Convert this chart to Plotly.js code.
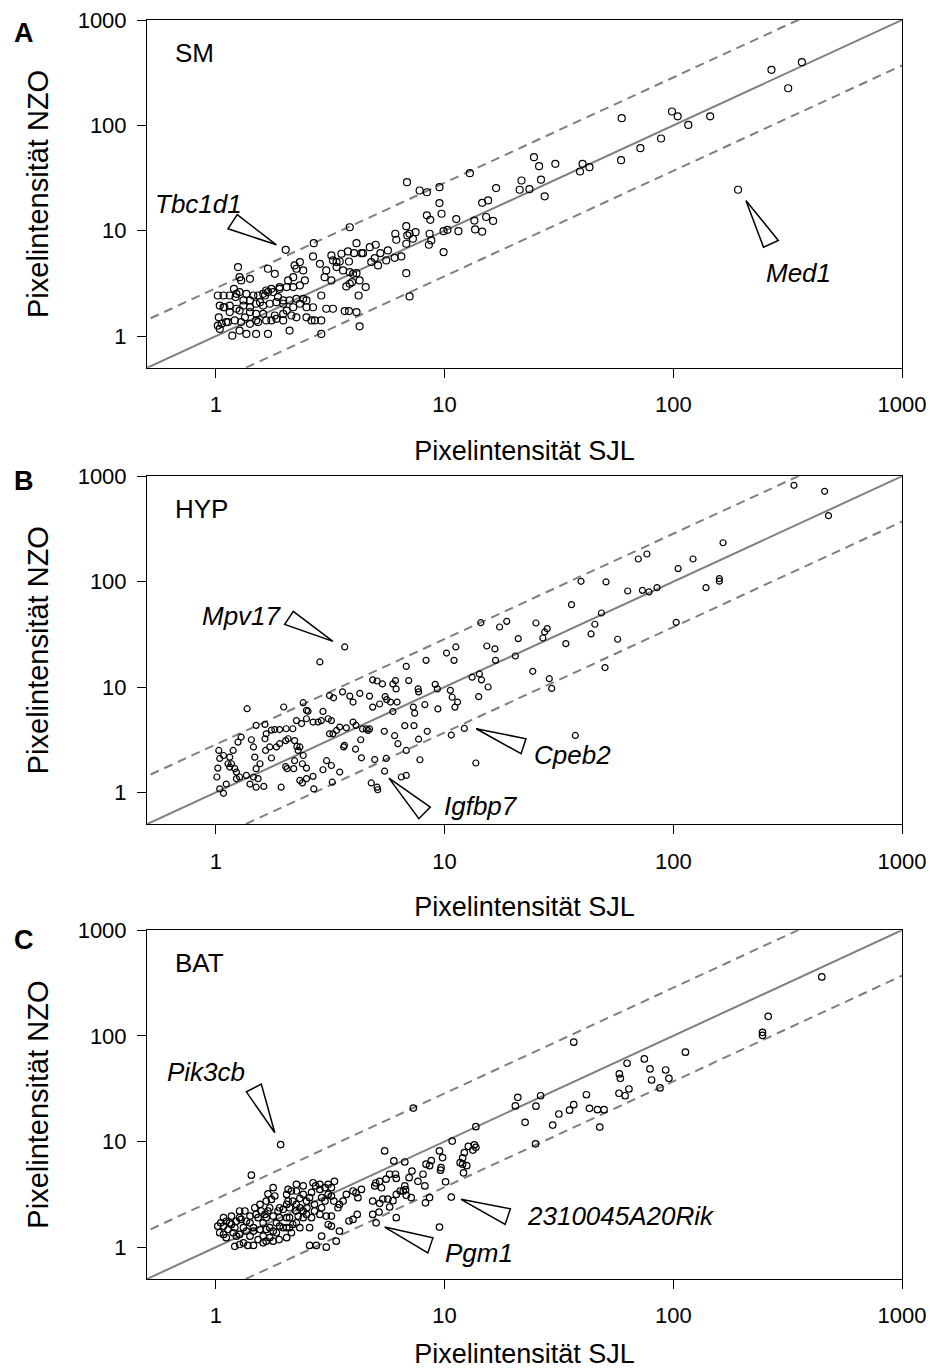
<!DOCTYPE html>
<html><head><meta charset="utf-8">
<script src="https://cdn.plot.ly/plotly-3.0.1.min.js"></script>
<style>html,body{margin:0;padding:0;background:#fff}#chart{width:930px;height:1369px}</style>
</head><body><div id="chart"></div>
<script>
const panelLetters = ['A', 'B', 'C'];
const tissues = ['SM', 'HYP', 'BAT'];
const xTitle = 'Pixelintensität SJL';
const yTitle = 'Pixelintensität NZO';
const tickValues = [1, 10, 100, 1000];
const tickLabels = ['1', '10', '100', '1000'];
const foldUpper = 2.85;
const foldLower = 2.7;

// Panel A: SM
const smSJL = [268.7,365,318,192,59.5,98.7,104.5,116.3,145,88.4,71.8,59.1,24.6,25.9,30.5,26.4,27.4,21.7,21.3,23.5,16.8,12.9,40.1,39.1,43,14.6,15.5,15.2,16.3,13.5,11.25,13.6,14.6,11.5,10.3,9.9,9.5,9.5,9.7,
 2.02,6.85,7.78,8.37,8.37,8.66,6.09,6.8,7.03,7.47,7.27,6.15,6.87,6.8,8.6,8.75,8.54,9.9,5.65,5.24,4.95,4.71,5.0,4.4,4.12,3.78,4.02,4.33,3.82,3.54,3.48,3.25,3.2,3.37,3.6,3.85,4.12,4.25,3.94,4.21,3.66,3.82,4.12,4.25,6.8,7.03,2.68,3.85,5.56,6.05,6.47,5.12,4.78,3.85,3.72,3.98,4.52,
 2.66,2.85,3.04,2.99,3.37,3.2,3.25,3.04,2.89,2.89,2.62,2.66,2.49,2.49,2.45,2.41,2.33,2.25,2.18,2.21,2.07,2.04,1.9,1.78,1.66,1.64,1.56,1.46,1.41,1.36,1.27,1.29,1.25,1.41,1.69,1.81,1.75,1.87,1.97,2.04,2.14,2.25,2.49,2.71,2.89,2.1,1.69,1.5,1.36,1.27,1.18,1.11,1.04,1.03,1.02,1.04,1.09,1.15,1.2,1.27,1.02,1.08,1.15,1.22,1.32,1.41,1.5,1.61,1.75,1.84,1.97,2.18,2.33,1.5,1.34,1.27,
 1.23,1.53,1.61,1.69,1.9,2.18,2.33,1.08,1.15,1.23,1.32,1.41,1.5,1.61,1.72,1.84,1.97,2.1,2.25,2.41,1.06,1.13,1.21,1.29,1.41,1.53,1.66,1.81,1.97];
const smNZO = [337,398,225,24.5,117,135.5,122,101,122,75.1,60.8,46.8,49.9,41,43.2,30.5,21.2,30,24.5,24.8,25.4,35.2,43.2,36.5,40.1,18.4,19.4,13.5,12.4,12.5,12.9,10.3,9.8,9.9,10.2,9.9,25.9,18.3,14.5,
 6.6,28.9,24.1,23.2,14,12.7,9.37,11.06,9.37,9.7,8.4,8.22,9.03,7.53,9.37,8.09,7.37,6.27,6.5,6.13,5.5,6.99,7.37,6.13,7.63,6.36,6.13,6.13,5.11,6.05,5.11,5.23,5.83,4.52,4.2,4.05,3.96,3.38,3.25,2.43,1.73,1.73,1.69,1.24,3.96,2.38,7.63,10.8,5.23,5.54,5.71,4.69,5.04,3.14,2.96,3.9,2.92,
 5.71,4.86,4.2,3.63,5.04,3.38,1.82,1.82,2.43,1.41,1.41,1.88,2.18,1.88,3.38,4.2,5.04,4.36,3.63,4.69,3.38,2.92,2.92,2.62,2.71,2.43,2.1,2.43,2.18,2.52,2.62,3.38,4.52,3.5,4.36,3.9,2.81,2.35,2.03,1.75,1.57,1.51,1.51,1.41,1.05,1.13,1.05,1.05,1.05,1.13,1.01,1.36,1.17,1.51,1.26,1.95,1.88,1.69,2.81,3.63,2.43,2.43,2.43,2.35,2.18,1.69,1.63,1.63,1.41,1.46,1.41,1.88,2.03,1.41,1.51,1.75,
 2.52,2.43,2.52,2.62,2.81,2.92,3.03,1.88,1.95,1.82,1.95,1.88,2.03,1.95,2.03,2.1,2.18,2.18,2.26,2.26,1.31,1.36,1.41,1.36,1.31,1.36,1.41,1.57,1.63];

// Panel B: HYP
const hypSJL = [3.66,2.85,1.37,1.98,2.41,2.49,2.53,2.94,3.14,3.27,3.58,3.85,3.98,4.26,4.7,4.85,5.2,5.5,5.58,5.8,6.2,5.94,4.85,5.07,5.35,5.94,6.14,6.1,6.8,6.97,7.66,7.7,8.3,9.1,9.3,8.2,9.35,10.6,10.8,11.4,11.1,10.2,11.0,11.2,15.3,16.6,16.7,20.4,13.2,14.2,14.5,15.5,14.1,24.3,
 7.3,7.4,6.7,7.35,8.4,7.7,7.8,10.7,12.2,13.7,6.8,6.25,6.05,5.45,5.56,5.47,4.95,4.78,5.07,5.1,6.47,6.8,4.33,4.08,4.3,4.38,4.55,4.63,3.72,3.65,3.62,3.48,3.2,3.05,2.94,3.23,2.68,2.66,2.49,2.39,2.33,2.19,2.05,2.02,2.21,2.39,2.49,2.41,2.29,2.26,2.33,2.21,2.07,2.02,1.9,1.84,1.72,1.75,1.65,1.64,1.66,1.75,1.81,1.9,2.03,2.17,2.25,2.37,2.49,2.66,2.8,2.89,3.1,3.2,3.14,3.25,3.37,3.48,3.98,4.1,4.7,
 1.56,1.5,1.48,1.46,1.43,1.5,1.64,1.29,1.25,1.19,1.13,1.17,1.15,1.21,1.23,1.27,1.23,1.11,1.08,1.04,1.01,1.02,1.04,1.03,1.08,1.15,1.36,1.41,1.5,1.62,1.53,1.46,1.93,
 337,459,477,165,122,105,159,159,139,103,70.3,76.7,63.2,73.3,78.3,84.9,39.5,50.8,35.9,48.5,45.4,43.7,57.1,50.3,33.9,25.1,28.1,27.4,26.9,28.7,29.4,21.0,17.4,18.7,14.4,37.3];
const hypNZO = [24,17.3,6.23,6.46,7.1,6.0,5.9,5.87,8.3,7.9,9.0,8.2,7.2,8.7,8.2,6.45,6.9,8.1,7.6,7.2,7.2,5.85,11.7,11.4,10.7,10.7,9.6,11.5,15.7,11.5,9.6,9.0,17.9,10.6,9.6,6.8,6.2,9.3,8.0,7.2,6.45,21,17.9,24,24.5,23.0,17.9,19.7,12.4,13.3,11.7,10.0,8.1,14.1,
 6.45,5.65,4.3,4.3,3.8,3.2,2.04,3.5,4.05,1.9,2.5,2.9,3.45,3.8,2.1,1.59,2.05,1.23,1.12,1.06,1.4,1.45,2.13,2.57,3.16,4.0,4.0,3.87,4.1,2.8,2.7,1.56,1.8,2.0,1.64,1.25,1.08,1.42,1.35,1.23,1.3,1.68,1.68,1.76,2.0,1.87,1.7,2.24,2.5,2.73,2.7,3.1,3.23,3.1,2.9,2.7,2.7,2.12,2.5,3.23,3.6,3.9,3.95,3.95,4.02,4.02,4.8,4.5,5.0,4.65,4.65,4.8,5.0,4.8,3.6,3.6,3.87,4.17,4.65,4.33,4.0,
 1.87,1.68,2.16,2.7,3.16,4.33,4.42,3.35,3.0,2.5,1.87,1.87,1.74,1.68,1.56,1.4,1.35,1.2,0.98,1.08,1.4,1.7,2.1,2.5,2.24,2.16,1.45,1.2,1.12,1.14,1.35,1.4,1.12,
 821,720,423,234,164,133,107,101,87.7,41.1,164,183,81.5,82.7,79.8,87.7,100.7,99.3,60.5,50.4,39.4,31.9,28.4,15.3,25.8,40.5,35.8,33.3,29.2,12.0,9.7,28.8,37.1,42,40.8,3.47];

// Panel C: BAT
const batSJL = [1.92,1.43,7.3,20.4,22.5,13.7,25,10.8,13.5,13.7,13.3,12.7,12.2,12.0,11.7,12.0,12.5,12.1,9.5,9.8,9.65,9.6,10.1,10.7,8.6,8.75,8.3,8.05,8.2,8.25,8.6,7.65,5.47,
 6.0,6.7,7.2,7.0,6.7,6.75,6.6,6.1,6.15,5.75,5.55,5.2,5.0,4.95,5.3,6.4,6.15,5.95,5.65,5.37,5.2,4.85,4.85,5.17,5.02,6.15,6.8,7.15,5.75,4.15,3.98,3.82,4.18,4.1,4.33,3.98,3.72,3.6,3.47,3.42,3.28,3.2,3.1,3.2,3.3,3.1,3.0,2.85,2.73,2.66,2.9,3.0,2.9,2.85,3.04,3.2,3.1,3.2,3.47,3.36,3.04,2.75,2.57,2.9,2.62,2.49,2.41,2.33,2.49,2.41,2.25,2.14,2.04,2.07,2.17,2.29,2.17,2.04,2.14,2.04,1.89,1.78,1.72,1.66,1.61,1.53,1.46,1.38,1.32,1.27,1.21,1.11,1.08,1.04,1.02,1.05,1.11,1.17,1.23,1.29,1.36,1.41,1.5,1.58,1.64,1.69,1.78,1.87,1.97,2.1,2.24,2.04,1.9,1.78,1.66,1.56,1.46,1.36,1.27,1.19,1.13,1.08,1.17,1.27,1.34,1.48,1.56,1.66,1.75,1.81,1.69,1.78,2.07,2.25,2.41,2.57,2.7,2.85,9.5,
 1.08,1.15,1.21,1.32,1.41,1.46,1.61,1.72,1.84,1.97,2.1,2.25,2.41,1.27,1.53,1.66,1.9,1.23,1.41,1.61,1.84,2.1,2.33,2.57,2.25,2.04,1.9,1.72,2.5,2.7,2.62,2.33,
 446,260,245.5,245.5,113,74.7,79.1,80.4,87.5,92.6,95.7,36.7,62.8,58.1,58.7,57.9,61.6,64,41.7,36.7,35.2,31.6,29.7,43,46.6,49.8,47.7,20.9,25.1,26.3];
const batNZO = [9.35,4.8,20.7,21.7,15.2,13.8,9.5,10.1,9.3,8.8,8.3,9.0,7.85,7.0,6.3,6.1,5.9,5.05,8.15,7.05,5.65,5.35,4.15,2.98,5.9,6.6,6.1,4.9,3.8,2.63,2.95,4.2,8.15,
 6.55,6.4,5.25,4.55,3.8,3.5,3.4,4.9,4.47,4.9,4.4,4.2,4.05,3.8,3.65,3.4,3.16,2.75,2.85,2.85,2.6,2.73,2.04,2.15,1.7,1.9,3.1,2.95,2.4,2.04,1.83,1.77,2.94,3.27,3.52,3.4,3.16,2.73,2.54,2.36,2.73,3.05,3.16,3.66,4.2,3.93,3.66,3.52,3.8,4.07,2.94,2.73,2.36,2.04,1.97,1.97,1.64,1.58,1.42,1.14,1.0,1.04,1.04,1.27,1.9,2.04,2.2,2.36,2.73,3.16,3.4,3.4,3.16,2.73,2.73,1.97,1.64,1.53,1.37,1.23,1.18,1.14,1.23,1.14,1.1,1.18,1.04,1.04,1.1,1.06,1.02,1.23,1.32,1.37,1.58,1.7,1.76,1.64,1.76,1.83,1.76,1.97,2.04,2.2,2.04,2.2,1.97,2.2,2.28,2.36,2.2,1.9,1.58,1.42,1.47,1.47,1.42,1.42,1.32,1.37,1.47,1.58,1.97,2.2,2.2,2.36,2.54,2.73,2.83,3.05,3.2,3.66,3.52,3.93,3.8,2.94,2.54,3.93,1.55,
 1.9,1.7,1.53,1.53,1.7,1.53,1.7,1.53,1.7,1.53,1.9,1.7,1.9,1.9,1.9,1.9,1.9,1.27,1.27,1.27,1.37,1.53,1.53,1.53,2.54,2.54,2.36,2.36,2.36,2.2,3.3,2.9,
 361,153,108,101,70,60.5,48.6,38.2,32.1,47.5,39.6,87.1,55,43.6,39.6,28.6,27.1,31.4,27.7,22.3,19.8,18.2,14.3,20.6,20,20,13.7,26.2,21.6,27.1];

// Callouts: gene label, panel, wedge apex and base corners, label position
const calloutGene  = ['Tbc1d1', 'Med1', 'Mpv17', 'Cpeb2', 'Igfbp7', 'Pik3cb', 'Pgm1', '2310045A20Rik'];
const calloutPanel = [0, 0, 1, 1, 1, 2, 2, 2];
const wedgeX = [[1.84,1.13,1.24],[207.7,248,288],[3.25,2.18,2.0],[13.75,22.7,21.6],[5.71,7.72,8.66],[1.81,1.36,1.58],[5.47,8.89,8.45],[11.8,19.4,18.4]];
const wedgeY = [[7.36,10.45,14.2],[19.4,6.99,8.09],[27.1,52.2,39.3],[4.02,3.23,2.33],[1.367,0.563,0.725],[12.1,29.5,35],[1.55,1.225,0.883],[2.84,2.31,1.64]];
const labelX = [0.531, 249.6, 1.98, 24, 9.7, 0.904, 9.8, 22.4];
const labelY = [17.8, 3.94, 46.8, 2.24, 0.736, 45.2, 0.883, 1.97];
const labelAnchor = ['left','left','right','left','left','center','left','left'];

const panels = [
  {x: smSJL, y: smNZO, size: 7},
  {x: hypSJL, y: hypNZO, size: 6},
  {x: batSJL, y: batNZO, size: 6.5}
];
const domains = [[0.7237, 1], [0.3613, 0.6376], [0, 0.2771]];
const FONT = 'Liberation Sans, Arial, Helvetica, sans-serif';
const lineGray = '#7f7f7f';

const traces = [];
const annotations = [];
const layout = {
  width: 930, height: 1369,
  margin: {l: 147, r: 28, t: 19.5, b: 90},
  paper_bgcolor: '#fff', plot_bgcolor: '#fff',
  showlegend: false,
  font: {family: FONT, color: '#000'},
  annotations: annotations
};

panels.forEach((p, i) => {
  const s = i === 0 ? '' : String(i + 1);
  const xa = 'x' + s, ya = 'y' + s;
  const lx = [0.1, 5000];
  traces.push({x: lx, y: lx, xaxis: xa, yaxis: ya, mode: 'lines', line: {color: lineGray, width: 2}, hoverinfo: 'skip'});
  traces.push({x: lx, y: lx.map(v => v * foldUpper), xaxis: xa, yaxis: ya, mode: 'lines', line: {color: lineGray, width: 2, dash: '9px,6px'}, hoverinfo: 'skip'});
  traces.push({x: lx, y: lx.map(v => v / foldLower), xaxis: xa, yaxis: ya, mode: 'lines', line: {color: lineGray, width: 2, dash: '9px,6px'}, hoverinfo: 'skip'});
  traces.push({x: p.x, y: p.y, xaxis: xa, yaxis: ya, mode: 'markers', type: 'scatter',
    marker: {symbol: 'circle-open', size: p.size, color: '#000', line: {width: 1.2}}});

  const axBase = {
    type: 'log', range: [Math.log10(0.5), 3], tickvals: tickValues, ticktext: tickLabels,
    ticks: 'outside', ticklen: 9, tickwidth: 1, tickcolor: '#000',
    showline: true, linecolor: '#000', linewidth: 1, mirror: true,
    showgrid: false, zeroline: false, tickfont: {family: FONT, size: 22, color: '#000'}
  };
  layout['xaxis' + s] = Object.assign({}, axBase, {
    domain: [0, 1], anchor: ya, ticklabelstandoff: 8,
    title: {text: xTitle, font: {family: FONT, size: 27, color: '#000'}, standoff: 24}
  });
  layout['yaxis' + s] = Object.assign({}, axBase, {
    domain: domains[i], anchor: xa, ticklabelstandoff: 6,
    title: {text: yTitle, font: {family: FONT, size: 29, color: '#000'}, standoff: 20}
  });

  annotations.push({text: '<b>' + panelLetters[i] + '</b>', xref: 'paper', yref: 'paper',
    x: -0.179, y: [0.990, 0.6336, 0.2692][i], xanchor: 'left', yanchor: 'middle', showarrow: false,
    font: {family: FONT, size: 27, color: '#000'}});
  annotations.push({text: tissues[i], xref: xa + ' domain', yref: ya + ' domain',
    x: 0.0344, y: 0.905, xanchor: 'left', yanchor: 'middle', showarrow: false,
    font: {family: FONT, size: 26, color: '#000'}});
});

calloutGene.forEach((g, k) => {
  const i = calloutPanel[k];
  const s = i === 0 ? '' : String(i + 1);
  traces.push({x: wedgeX[k].concat([wedgeX[k][0]]), y: wedgeY[k].concat([wedgeY[k][0]]),
    xaxis: 'x' + s, yaxis: 'y' + s, mode: 'lines', fill: 'toself', fillcolor: '#fff',
    line: {color: '#000', width: 1.5}, hoverinfo: 'skip'});
  annotations.push({text: '<i>' + g + '</i>', xref: 'x' + s, yref: 'y' + s,
    x: Math.log10(labelX[k]), y: Math.log10(labelY[k]), xanchor: labelAnchor[k], yanchor: 'middle',
    showarrow: false, font: {family: FONT, size: 26, color: '#000'}});
});

Plotly.newPlot('chart', traces, layout, {staticPlot: true});
</script>
</body></html>
